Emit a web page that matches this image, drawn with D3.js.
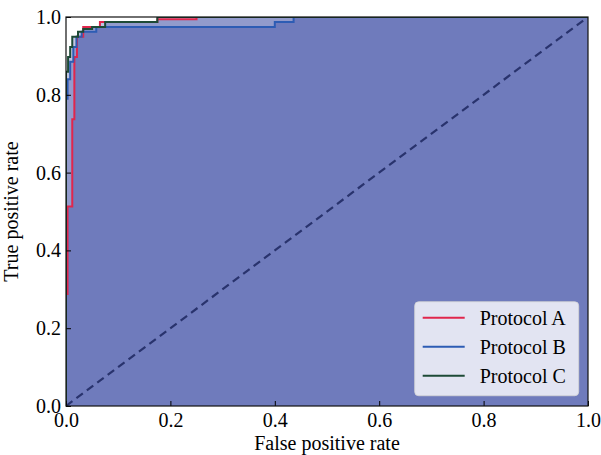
<!DOCTYPE html>
<html>
<head>
<meta charset="utf-8">
<script src="https://cdn.jsdelivr.net/npm/d3@7"></script>
<style>
  body { margin: 0; background: #fff; }
  svg text { font-family: "Liberation Serif", "DejaVu Serif", serif !important; }
</style>
</head>
<body>
<svg id="chart"></svg>
<script>
// ROC curve corners (false positive rate / true positive rate)
const fprA = [0, 0, 0.003, 0.003, 0.012, 0.012, 0.016, 0.016, 0.021, 0.021, 0.033, 0.033, 0.065, 0.065, 0.175, 0.175, 0.25, 0.25, 1];
const tprA = [0, 0.288, 0.288, 0.513, 0.513, 0.737, 0.737, 0.897, 0.897, 0.949, 0.949, 0.974, 0.974, 0.987, 0.987, 0.994, 0.994, 1, 1];

const fprB = [0, 0, 0.003, 0.003, 0.008, 0.008, 0.014, 0.014, 0.02, 0.02, 0.03, 0.03, 0.058, 0.058, 0.40, 0.40, 0.436, 0.436, 1];
const tprB = [0, 0.79, 0.79, 0.84, 0.84, 0.885, 0.885, 0.923, 0.923, 0.949, 0.949, 0.962, 0.962, 0.974, 0.974, 0.987, 0.987, 1, 1];

const fprC = [0, 0, 0.004, 0.004, 0.008, 0.008, 0.012, 0.012, 0.023, 0.023, 0.033, 0.033, 0.05, 0.05, 0.075, 0.075, 0.175, 0.175, 1];
const tprC = [0, 0.859, 0.859, 0.897, 0.897, 0.923, 0.923, 0.949, 0.949, 0.962, 0.962, 0.969, 0.969, 0.974, 0.974, 0.987, 0.987, 1, 1];

const seriesNames = ['Protocol A', 'Protocol B', 'Protocol C'];
const seriesColors = ['#e0264c', '#2d5cb4', '#1d4a36'];
const tickValues = [0, 0.2, 0.4, 0.6, 0.8, 1.0];

const series = [
  { name: seriesNames[0], color: seriesColors[0], pts: fprA.map((f, i) => [f, tprA[i]]) },
  { name: seriesNames[1], color: seriesColors[1], pts: fprB.map((f, i) => [f, tprB[i]]) },
  { name: seriesNames[2], color: seriesColors[2], pts: fprC.map((f, i) => [f, tprC[i]]) }
];

const width = 601, height = 455;
const margin = { top: 17, right: 13, bottom: 49, left: 66 };
const innerW = width - margin.left - margin.right;
const innerH = height - margin.top - margin.bottom;

const svg = d3.select('#chart')
  .attr('width', width)
  .attr('height', height);

const chart = svg.append('g')
  .attr('transform', `translate(${margin.left},${margin.top})`);

// scales
const x = d3.scaleLinear().domain([0, 1]).range([0, innerW]);
const y = d3.scaleLinear().domain([0, 1]).range([innerH, 0]);

chart.append('clipPath').attr('id', 'plot-clip')
  .append('rect').attr('width', innerW).attr('height', innerH);

const plot = chart.append('g').attr('clip-path', 'url(#plot-clip)');

// shaded area under each curve, stacked with transparency
const area = d3.area().x(d => x(d[0])).y0(y(0)).y1(d => y(d[1]));
plot.selectAll('.area')
  .data(series)
  .join('path')
  .attr('class', 'area')
  .attr('d', d => area(d.pts))
  .attr('fill', '#061b8d')
  .attr('fill-opacity', 0.25);

// chance line
plot.append('path')
  .attr('d', d3.line()([[x(0), y(0)], [x(1), y(1)]]))
  .attr('stroke', '#29336d')
  .attr('stroke-width', 2.2)
  .attr('stroke-dasharray', '8,5')
  .attr('fill', 'none');

const line = d3.line().x(d => x(d[0])).y(d => y(d[1]));
plot.selectAll('.roc')
  .data(series)
  .join('path')
  .attr('class', 'roc')
  .attr('d', d => line(d.pts))
  .attr('stroke', d => d.color)
  .attr('stroke-width', 2)
  .attr('fill', 'none');

// axes, ticks pointing inward
const xAxis = d3.axisBottom(x).tickValues(tickValues).tickFormat(d3.format('.1f'))
  .tickSizeInner(-5).tickSizeOuter(0).tickPadding(7);
const yAxis = d3.axisLeft(y).tickValues(tickValues).tickFormat(d3.format('.1f'))
  .tickSizeInner(-5).tickSizeOuter(0).tickPadding(5);

const xg = chart.append('g').attr('transform', `translate(0,${innerH})`).call(xAxis);
const yg = chart.append('g').call(yAxis);
[xg, yg].forEach(g => {
  g.attr('font-family', null).attr('font-size', null);
  g.select('.domain').remove();
  g.selectAll('text').attr('font-size', 20).attr('fill', '#000');
  g.selectAll('line').attr('stroke', '#000');
});

// frame
chart.append('rect')
  .attr('width', innerW)
  .attr('height', innerH)
  .attr('fill', 'none')
  .attr('stroke', '#111')
  .attr('stroke-width', 1.2);

chart.append('text')
  .attr('x', innerW / 2)
  .attr('y', innerH + 44)
  .attr('text-anchor', 'middle')
  .attr('font-size', 20)
  .text('False positive rate');

chart.append('text')
  .attr('transform', `translate(${-48},${innerH / 2}) rotate(-90)`)
  .attr('text-anchor', 'middle')
  .attr('font-size', 20)
  .text('True positive rate');

// legend
const legend = chart.append('g')
  .attr('transform', `translate(${x(0.668)},${y(0.268)})`);

legend.append('rect')
  .attr('width', 164)
  .attr('height', 94)
  .attr('rx', 4)
  .attr('fill', '#fff')
  .attr('fill-opacity', 0.8)
  .attr('stroke', '#d6d6d6')
  .attr('stroke-opacity', 0.8);

const item = legend.selectAll('.item')
  .data(series)
  .join('g')
  .attr('class', 'item')
  .attr('transform', (d, i) => `translate(0,${16 + i * 29})`);

item.append('line')
  .attr('x1', 8).attr('x2', 50)
  .attr('stroke', d => d.color)
  .attr('stroke-width', 2);

item.append('text')
  .attr('x', 65)
  .attr('dy', '0.35em')
  .attr('font-size', 20)
  .text(d => d.name);
</script>
</body>
</html>
